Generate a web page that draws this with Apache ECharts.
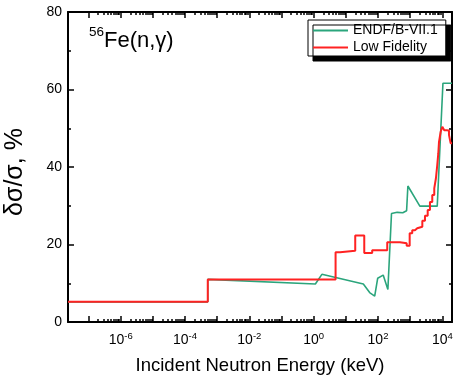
<!DOCTYPE html>
<html>
<head>
<meta charset="utf-8">
<script src="https://cdn.jsdelivr.net/npm/echarts@6/dist/echarts.min.js"></script>
<style>
  html, body { margin: 0; padding: 0; background: #fff; }
  #ec { width: 460px; height: 382px; }
</style>
</head>
<body>
<div id="ec"></div>
<script>
// energies in keV, uncertainties in %
const endfE = [2.3e-8, 5.1e-4, 5.1e-4, 1.13, 1.8, 35, 55, 79, 98, 145, 203, 263, 395, 590, 775, 850, 2000, 6950, 10450, 20000]
const endfV = [5.2, 5.2, 11.0, 9.8, 12.3, 9.8, 7.6, 6.7, 11.3, 12.1, 8.4, 28.0, 28.3, 28.2, 28.7, 35.1, 29.9, 29.9, 61.6, 61.6]

// low fidelity: group edges (keV) and the value held until the next edge
const lowE = [2.3e-8, 5.1e-4, 4.8, 6.6, 19.6, 37.4, 66, 194, 481, 780, 966, 1160, 1410, 1660, 2390, 2890, 3510, 4130, 4870, 5620, 6330, 6960, 7500, 7870, 8900, 9990, 11500, 13650, 16100, 18200, 20000]
const lowV = [5.2, 11.0, 18.0, 18.4, 22.3, 17.8, 18.5, 20.6, 20.3, 19.7, 22.9, 23.7, 24.2, 24.6, 26.1, 27.4, 28.9, 31.0, 32.8, 34.5, 37.1, 40.5, 43.5, 46.4, 49.1, 50.4, 49.5, 49.4, 48.3, 46.1, 46.1]

const decades = [-7, -6, -5, -4, -3, -2, -1, 0, 1, 2, 3, 4]
const labelExps = [-6, -4, -2, 0, 2, 4]
const yTicks = [0, 20, 40, 60, 80]

const xMin = Math.log10(2.3e-8)
const xMax = Math.log10(20000)
const font = 'Liberation Sans, Arial, sans-serif'

const minorPos = []
decades.forEach(d => {
  for (let k = 2; k <= 9; k++) {
    const v = d + Math.log10(k)
    if (v > xMin && v < xMax) minorPos.push(v)
  }
})

const toPts = (es, vs) => es.map((e, i) => [Math.log10(e), vs[i]])

function xAxisDef(position, ticks, len, withLine, withLabels) {
  return {
    type: 'value',
    position: position,
    min: xMin,
    max: xMax,
    splitLine: { show: false },
    axisLine: { show: withLine, onZero: false, lineStyle: { color: '#000', width: 2 } },
    axisTick: { show: true, inside: true, length: len, customValues: ticks, lineStyle: { color: '#000', width: 1.5 } },
    axisLabel: withLabels ? {
      show: true,
      customValues: labelExps,
      margin: 9,
      formatter: v => '{b|10}{s|' + v + '}',
      rich: {
        b: { fontSize: 14, fontFamily: font, color: '#000', lineHeight: 16, verticalAlign: 'bottom' },
        s: { fontSize: 9.5, fontFamily: font, color: '#000', verticalAlign: 'top' }
      }
    } : { show: false },
    name: withLabels ? 'Incident Neutron Energy (keV)' : '',
    nameLocation: 'middle',
    nameGap: 34,
    nameTextStyle: { fontSize: 18.5, fontFamily: font, color: '#000' }
  }
}

function yAxisDef(position, withLabels) {
  return {
    type: 'value',
    position: position,
    min: 0,
    max: 80,
    interval: 20,
    splitLine: { show: false },
    axisLine: { show: true, onZero: false, lineStyle: { color: '#000', width: 2 } },
    axisTick: { show: true, inside: true, length: 6, lineStyle: { color: '#000', width: 1.5 } },
    minorTick: { show: true, splitNumber: 2, length: 3, lineStyle: { color: '#000', width: 1.5 } },
    axisLabel: withLabels ? {
      show: true, margin: 6, fontSize: 14, fontFamily: font, color: '#000',
      customValues: yTicks
    } : { show: false },
    name: withLabels ? 'δσ/σ, %' : '',
    nameLocation: 'middle',
    nameGap: 40,
    nameTextStyle: { fontSize: 25, fontFamily: font, color: '#000', padding: [0, 10, 0, 0] }
  }
}

const chart = echarts.init(document.getElementById('ec'))
chart.setOption({
  animation: false,
  backgroundColor: '#fff',
  grid: { left: 68, right: 8, top: 12, bottom: 60, containLabel: false, outerBoundsMode: 'none' },
  xAxis: [
    xAxisDef('bottom', decades, 6, true, true),
    xAxisDef('bottom', minorPos, 3, false, false),
    xAxisDef('top', decades, 6, true, false),
    xAxisDef('top', minorPos, 3, false, false)
  ],
  yAxis: [
    yAxisDef('left', true),
    yAxisDef('right', false)
  ],
  legend: {
    orient: 'vertical',
    left: 308,
    top: 20,
    padding: [2, 8, 0, 5],
    itemGap: 0,
    itemWidth: 35,
    itemHeight: 2,
    itemTextGap: 3,
    icon: 'rect',
    backgroundColor: '#fff',
    borderColor: '#000',
    borderWidth: 1,
    shadowColor: '#000',
    shadowBlur: 0,
    shadowOffsetX: 5,
    shadowOffsetY: 5,
    selectedMode: false,
    textStyle: { fontSize: 14, fontFamily: font, color: '#000', lineHeight: 17 },
    data: ['ENDF/B-VII.1', 'Low Fidelity']
  },
  graphic: [
    { type: 'text', left: 89, top: 25, style: { text: '56', fontSize: 13.5, fontFamily: font, fill: '#000' } },
    { type: 'text', left: 104, top: 30, style: { text: 'Fe(n,γ)', fontSize: 22, fontFamily: font, fill: '#000' } }
  ],
  series: [
    {
      name: 'ENDF/B-VII.1',
      type: 'line',
      data: toPts(endfE, endfV),
      showSymbol: false,
      color: '#2ba57c',
      lineStyle: { color: '#2ba57c', width: 1.6 }
    },
    {
      name: 'Low Fidelity',
      type: 'line',
      step: 'end',
      data: toPts(lowE, lowV),
      showSymbol: false,
      color: '#ff2222',
      lineStyle: { color: '#ff2222', width: 2 }
    }
  ]
})
</script>
</body>
</html>
